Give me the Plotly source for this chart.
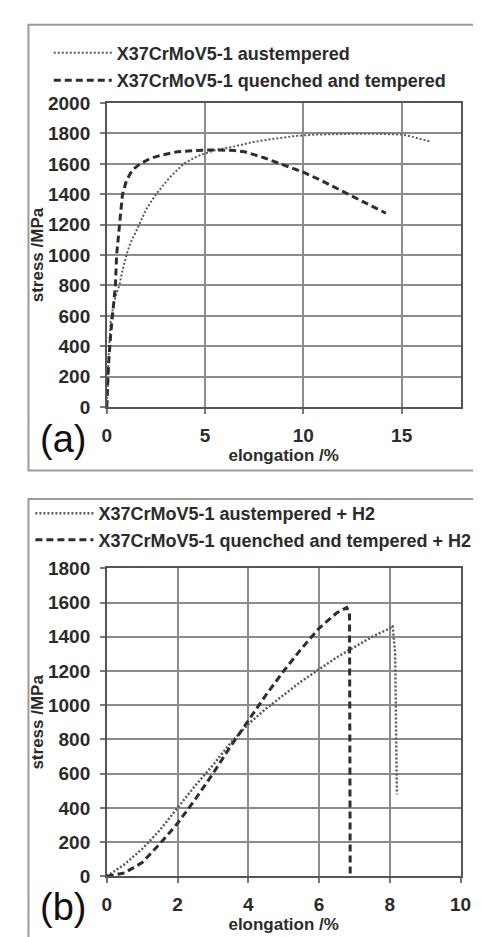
import plotly.graph_objects as go

W, H = 481, 937

# ---------------- data ----------------
# panel (a)
a_aus_x = [0, 0.1, 0.2, 0.35, 0.5, 0.64, 0.8, 1.0, 1.2, 1.47, 2.0, 2.5, 3.2, 3.9, 4.6, 5.5,
           6.5, 7.5, 8.5, 9.5, 10.5, 11.5, 12.5, 13.5, 14.5, 15.0, 15.5, 16.0, 16.5]
a_aus_y = [0, 350, 560, 680, 750, 800, 900, 1000, 1080, 1150, 1300, 1400, 1510, 1600, 1650, 1690,
           1715, 1745, 1765, 1782, 1792, 1797, 1798, 1798, 1797, 1793, 1780, 1760, 1745]
a_qt_x = [0, 0.1, 0.2, 0.3, 0.4, 0.44, 0.5, 0.57, 0.64, 0.72, 0.8, 1.0, 1.3, 1.7, 2.2, 2.7,
          3.6, 4.5, 5.5, 6.5, 7.0, 8.0, 9.0, 10.0, 11.0, 12.0, 13.0, 14.2]
a_qt_y = [0, 300, 480, 600, 750, 800, 1000, 1100, 1200, 1300, 1400, 1490, 1560, 1600, 1635, 1655,
          1680, 1688, 1692, 1688, 1680, 1640, 1595, 1545, 1485, 1420, 1350, 1275]
# panel (b)
b_aus_x = [0, 0.5, 1.0, 1.5, 2.0, 2.5, 3.0, 3.5, 4.0, 4.5, 5.0, 5.5, 6.0, 6.5, 7.0, 7.5, 8.0,
           8.08, 8.15, 8.2]
b_aus_y = [0, 70, 160, 270, 400, 530, 650, 780, 890, 980, 1060, 1140, 1210, 1280, 1340, 1400,
           1450, 1465, 1300, 480]
b_qt_x = [0, 0.5, 1.0, 1.5, 2.0, 2.5, 3.0, 3.5, 4.0, 4.5, 5.0, 5.5, 6.0, 6.5, 6.78, 6.86, 6.88]
b_qt_y = [0, 20, 80, 190, 310, 450, 600, 760, 910, 1060, 1200, 1330, 1450, 1540, 1571, 1540, 0]

names_a = ["X37CrMoV5-1 austempered", "X37CrMoV5-1 quenched and tempered"]
names_b = ["X37CrMoV5-1 austempered + H2", "X37CrMoV5-1 quenched and tempered + H2"]
xticks_a = [0, 5, 10, 15]
xticks_b = [0, 2, 4, 6, 8, 10]

FONT = "Liberation Sans, Arial, sans-serif"
TXT = "#2b2b2b"
DOT_C = "#5a5a5a"
DASH_C = "#2e2e2e"

def px_x(p):
    return p / W

def px_y(p):
    return 1 - p / H

fig = go.Figure()
fig.add_trace(go.Scatter(x=a_aus_x, y=a_aus_y, mode="lines", name=names_a[0],
                         line=dict(color=DOT_C, width=2, dash="2px,2px"),
                         xaxis="x", yaxis="y", legend="legend", legendgroup="a1"))
fig.add_trace(go.Scatter(x=a_qt_x, y=a_qt_y, mode="lines", name=names_a[1],
                         line=dict(color=DASH_C, width=3, dash="7px,4px"),
                         xaxis="x", yaxis="y", legend="legend", legendgroup="a2"))
fig.add_trace(go.Scatter(x=b_aus_x, y=b_aus_y, mode="lines", name=names_b[0],
                         line=dict(color=DOT_C, width=2.5, dash="2px,2px"),
                         xaxis="x2", yaxis="y2", legend="legend2"))
fig.add_trace(go.Scatter(x=b_qt_x, y=b_qt_y, mode="lines", name=names_b[1],
                         line=dict(color=DASH_C, width=3, dash="7px,4px"),
                         xaxis="x2", yaxis="y2", legend="legend2"))

axis_common = dict(showgrid=True, gridcolor="#8c8c8c", gridwidth=1.5,
                   showline=True, linecolor="#555555", linewidth=1.5, mirror=True,
                   ticks="outside", ticklen=5, tickcolor="#777777", tickwidth=1.5,
                   zeroline=False, fixedrange=True,
                   tickfont=dict(family=FONT, size=19, color=TXT, weight="bold"))

TITLE_FONT = dict(family=FONT, size=17, color=TXT, weight="bold")
xdom = [px_x(97), px_x(463)]
fig.update_layout(
    width=W, height=H, margin=dict(l=0, r=0, t=0, b=0),
    paper_bgcolor="white", plot_bgcolor="white",
    font=dict(family=FONT, color=TXT),
    xaxis=dict(domain=xdom, range=[0, 18], tickvals=xticks_a, anchor="y",
               ticklabelstandoff=5,
               title=dict(text="elongation /%", standoff=0, font=TITLE_FONT),
               **axis_common),
    yaxis=dict(domain=[px_y(398), px_y(87)], range=[0, 2000], dtick=200, anchor="x",
               ticklabelstandoff=6,
               title=dict(text="stress /MPa", standoff=0, font=TITLE_FONT),
               **axis_common),
    xaxis2=dict(domain=xdom, range=[0, 10], tickvals=xticks_b, anchor="y2",
                ticklabelstandoff=5,
                title=dict(text="elongation /%", standoff=0, font=TITLE_FONT),
                **axis_common),
    yaxis2=dict(domain=[px_y(878), px_y(563)], range=[0, 1800], dtick=200, anchor="x2",
                ticklabelstandoff=6,
                title=dict(text="stress /MPa", standoff=0, font=TITLE_FONT),
                **axis_common),
    legend=dict(x=px_x(37), y=px_y(17), xanchor="left", yanchor="top",
                bgcolor="rgba(0,0,0,0)", itemwidth=58, tracegroupgap=1,
                traceorder="grouped",
                font=dict(family=FONT, size=18, color=TXT, weight="bold")),
    legend2=dict(x=px_x(18), y=px_y(488), xanchor="left", yanchor="top",
                 bgcolor="rgba(0,0,0,0)", itemwidth=58, tracegroupgap=0,
                 font=dict(family=FONT, size=18, color=TXT, weight="bold")),
    showlegend=True,
)

# outer frames of the two panels
fig.add_shape(type="rect", xref="paper", yref="paper",
              x0=px_x(16), x1=px_x(500), y0=px_y(463), y1=px_y(7),
              line=dict(color="#9a9a9a", width=2), fillcolor="rgba(0,0,0,0)", layer="below")
fig.add_shape(type="rect", xref="paper", yref="paper",
              x0=px_x(16), x1=px_x(500), y0=px_y(960), y1=px_y(492),
              line=dict(color="#9a9a9a", width=2), fillcolor="rgba(0,0,0,0)", layer="below")

# panel labels
fig.add_annotation(text="(a)", xref="paper", yref="paper", x=px_x(52), y=px_y(431),
                   showarrow=False, xanchor="center", yanchor="middle",
                   font=dict(family=FONT, size=38, color="#111111"))
fig.add_annotation(text="(b)", xref="paper", yref="paper", x=px_x(52), y=px_y(909),
                   showarrow=False, xanchor="center", yanchor="middle",
                   font=dict(family=FONT, size=38, color="#111111"))

fig.write_html("out.html")
